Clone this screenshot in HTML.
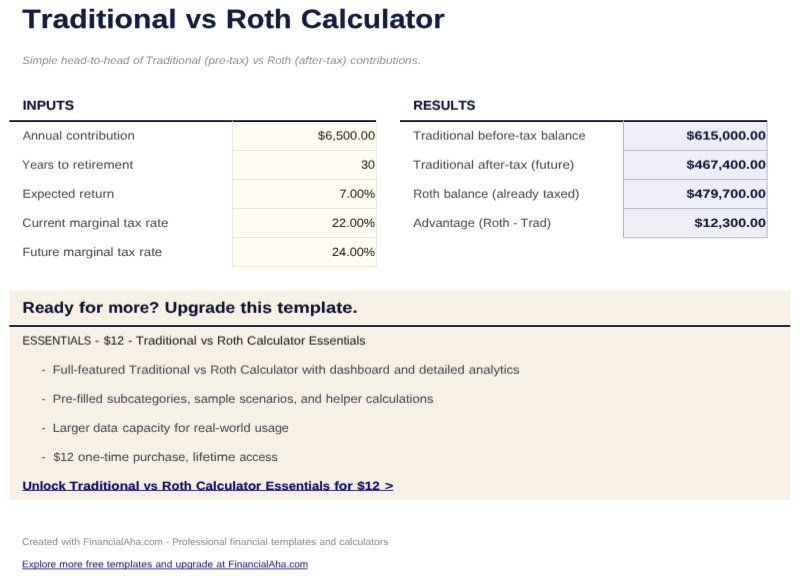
<!DOCTYPE html>
<html><head><meta charset="utf-8"><title>Traditional vs Roth Calculator</title>
<style>
html,body{margin:0;padding:0;background:#fff;}
body{width:800px;height:579px;overflow:hidden;}
svg{display:block;font-family:"Liberation Sans",sans-serif;font-kerning:none;text-rendering:geometricPrecision;}
</style></head><body>
<svg width="800" height="579" viewBox="0 0 800 579">
<defs>
<filter id="f0" x="-5%" y="-40%" width="110%" height="180%" color-interpolation-filters="sRGB"><feConvolveMatrix order="3 5" kernelMatrix="0.0000 0.0000 0.0000 0.0030 0.0485 0.0030 0.0485 0.7941 0.0485 0.0030 0.0485 0.0030 0.0000 0.0000 0.0000" divisor="1" edgeMode="none" preserveAlpha="false"/></filter>
<filter id="f4" x="-5%" y="-40%" width="110%" height="180%" color-interpolation-filters="sRGB"><feConvolveMatrix order="3 5" kernelMatrix="0.0000 0.0000 0.0000 0.0000 0.0000 0.0000 0.0327 0.5347 0.0327 0.0218 0.3564 0.0218 0.0000 0.0000 0.0000" divisor="1" edgeMode="none" preserveAlpha="false"/></filter>
<filter id="fm1" x="-5%" y="-40%" width="110%" height="180%" color-interpolation-filters="sRGB"><feConvolveMatrix order="3 5" kernelMatrix="0.0001 0.0008 0.0001 0.0058 0.0950 0.0058 0.0481 0.7877 0.0481 0.0005 0.0076 0.0005 0.0000 0.0000 0.0000" divisor="1" edgeMode="none" preserveAlpha="false"/></filter>
<filter id="fm2" x="-5%" y="-40%" width="110%" height="180%" color-interpolation-filters="sRGB"><feConvolveMatrix order="3 5" kernelMatrix="0.0000 0.0000 0.0000 0.0109 0.1782 0.0109 0.0436 0.7129 0.0436 0.0000 0.0000 0.0000 0.0000 0.0000 0.0000" divisor="1" edgeMode="none" preserveAlpha="false"/></filter>
<filter id="fm3" x="-5%" y="-40%" width="110%" height="180%" color-interpolation-filters="sRGB"><feConvolveMatrix order="3 5" kernelMatrix="0.0000 0.0000 0.0000 0.0163 0.2673 0.0163 0.0381 0.6238 0.0381 0.0000 0.0000 0.0000 0.0000 0.0000 0.0000" divisor="1" edgeMode="none" preserveAlpha="false"/></filter>
<filter id="fm4" x="-5%" y="-40%" width="110%" height="180%" color-interpolation-filters="sRGB"><feConvolveMatrix order="3 5" kernelMatrix="0.0000 0.0000 0.0000 0.0218 0.3564 0.0218 0.0327 0.5347 0.0327 0.0000 0.0000 0.0000 0.0000 0.0000 0.0000" divisor="1" edgeMode="none" preserveAlpha="false"/></filter>
</defs>
<!-- section header rules -->
<rect x="9.4" y="120.2" width="366.6" height="1.8" fill="#10163a"/>
<rect x="400" y="120.2" width="367.2" height="1.8" fill="#10163a"/>
<!-- input cells -->
<rect x="232.3" y="122" width="144.3" height="144.9" fill="#fefcf3"/>
<g fill="#e7e3d2">
<rect x="231.9" y="120.6" width="0.8" height="146.6"/>
<rect x="375.9" y="122" width="0.8" height="145.2"/>
<rect x="232.3" y="149.9" width="144.3" height="0.9"/>
<rect x="232.3" y="179.0" width="144.3" height="0.9"/>
<rect x="232.3" y="208.1" width="144.3" height="0.9"/>
<rect x="232.3" y="237.2" width="144.3" height="0.9"/>
<rect x="232.3" y="266.3" width="144.3" height="0.9"/>
</g>
<!-- result cells -->
<rect x="623.4" y="122" width="143.9" height="115.8" fill="#eeeff6"/>
<g fill="#b6b7cc">
<rect x="623.0" y="120.6" width="1" height="117.6"/>
<rect x="766.6" y="122" width="1" height="116.2"/>
<rect x="623.4" y="149.9" width="143.9" height="0.9"/>
<rect x="623.4" y="179.0" width="143.9" height="0.9"/>
<rect x="623.4" y="208.1" width="143.9" height="0.9"/>
<rect x="623.4" y="237.2" width="143.9" height="1"/>
</g>
<!-- upgrade banner -->
<rect x="9.4" y="290.5" width="780.9" height="209.3" fill="#f6f0e5"/>
<rect x="9.3" y="325.1" width="781" height="1.8" fill="#10163a"/>

<g font-size="26.36" font-weight="700" stroke="#131c3d" stroke-width="0.25" stroke-linejoin="round" fill="#131c3d" filter="url(#f0)"><text x="22.39" y="28" textLength="154.26" lengthAdjust="spacingAndGlyphs">Traditional</text> <text x="185.88" y="28" textLength="30.72" lengthAdjust="spacingAndGlyphs">vs</text> <text x="226.02" y="28" textLength="65.64" lengthAdjust="spacingAndGlyphs">Roth</text> <text x="300.87" y="28" textLength="143.95" lengthAdjust="spacingAndGlyphs">Calculator</text></g>
<g font-size="10.76" font-style="italic" fill="#8b8d97" filter="url(#f0)"><text x="22.33" y="64" textLength="35.24" lengthAdjust="spacingAndGlyphs">Simple</text> <text x="61.03" y="64" textLength="68.44" lengthAdjust="spacingAndGlyphs">head-to-head</text> <text x="133.06" y="64" textLength="10.05" lengthAdjust="spacingAndGlyphs">of</text> <text x="145.50" y="64" textLength="55.18" lengthAdjust="spacingAndGlyphs">Traditional</text> <text x="204.49" y="64" textLength="44.51" lengthAdjust="spacingAndGlyphs">(pre-tax)</text> <text x="252.72" y="64" textLength="11.31" lengthAdjust="spacingAndGlyphs">vs</text> <text x="267.19" y="64" textLength="23.80" lengthAdjust="spacingAndGlyphs">Roth</text> <text x="294.66" y="64" textLength="51.93" lengthAdjust="spacingAndGlyphs">(after-tax)</text> <text x="350.26" y="64" textLength="70.73" lengthAdjust="spacingAndGlyphs">contributions.</text></g>
<g font-size="13.15" font-weight="700" stroke="#0d1331" stroke-width="0.15" stroke-linejoin="round" fill="#0d1331" filter="url(#fm3)"><text x="22.74" y="110" textLength="51.30" lengthAdjust="spacingAndGlyphs">INPUTS</text></g>
<g font-size="13.15" font-weight="700" stroke="#0d1331" stroke-width="0.13" stroke-linejoin="round" fill="#0d1331" filter="url(#fm3)"><text x="413.37" y="110" textLength="62.13" lengthAdjust="spacingAndGlyphs">RESULTS</text></g>
<g font-size="11.97" stroke="#4b4b4f" stroke-width="0.06" stroke-linejoin="round" fill="#4b4b4f" filter="url(#fm4)"><text x="22.69" y="140" textLength="39.28" lengthAdjust="spacingAndGlyphs">Annual</text> <text x="65.94" y="140" textLength="68.86" lengthAdjust="spacingAndGlyphs">contribution</text></g>
<g font-size="11.97" stroke="#4b4b4f" stroke-width="0.06" stroke-linejoin="round" fill="#4b4b4f" filter="url(#fm3)"><text x="22.09" y="169" textLength="31.70" lengthAdjust="spacingAndGlyphs">Years</text> <text x="57.70" y="169" textLength="11.22" lengthAdjust="spacingAndGlyphs">to</text> <text x="72.80" y="169" textLength="60.47" lengthAdjust="spacingAndGlyphs">retirement</text></g>
<g font-size="11.97" stroke="#4b4b4f" stroke-width="0.06" stroke-linejoin="round" fill="#4b4b4f" filter="url(#fm2)"><text x="22.46" y="198" textLength="52.83" lengthAdjust="spacingAndGlyphs">Expected</text> <text x="79.34" y="198" textLength="35.00" lengthAdjust="spacingAndGlyphs">return</text></g>
<g font-size="11.97" stroke="#4b4b4f" stroke-width="0.06" stroke-linejoin="round" fill="#4b4b4f" filter="url(#fm1)"><text x="22.36" y="227" textLength="43.04" lengthAdjust="spacingAndGlyphs">Current</text> <text x="69.44" y="227" textLength="50.14" lengthAdjust="spacingAndGlyphs">marginal</text> <text x="123.56" y="227" textLength="17.81" lengthAdjust="spacingAndGlyphs">tax</text> <text x="145.43" y="227" textLength="22.93" lengthAdjust="spacingAndGlyphs">rate</text></g>
<g font-size="11.97" stroke="#4b4b4f" stroke-width="0.06" stroke-linejoin="round" fill="#4b4b4f" filter="url(#f0)"><text x="22.45" y="256" textLength="37.01" lengthAdjust="spacingAndGlyphs">Future</text> <text x="63.35" y="256" textLength="50.14" lengthAdjust="spacingAndGlyphs">marginal</text> <text x="117.47" y="256" textLength="17.81" lengthAdjust="spacingAndGlyphs">tax</text> <text x="139.34" y="256" textLength="22.93" lengthAdjust="spacingAndGlyphs">rate</text></g>
<g font-size="11.97" stroke="#222222" stroke-width="0.06" stroke-linejoin="round" fill="#222222" filter="url(#fm4)"><text x="318.12" y="140" textLength="56.89" lengthAdjust="spacingAndGlyphs">$6,500.00</text></g>
<g font-size="11.97" stroke="#222222" stroke-width="0.06" stroke-linejoin="round" fill="#222222" filter="url(#fm3)"><text x="361.22" y="169" textLength="13.78" lengthAdjust="spacingAndGlyphs">30</text></g>
<g font-size="11.97" stroke="#222222" stroke-width="0.06" stroke-linejoin="round" fill="#222222" filter="url(#fm2)"><text x="339.40" y="198" textLength="35.68" lengthAdjust="spacingAndGlyphs">7.00%</text></g>
<g font-size="11.97" stroke="#222222" stroke-width="0.06" stroke-linejoin="round" fill="#222222" filter="url(#fm1)"><text x="332.06" y="227" textLength="43.03" lengthAdjust="spacingAndGlyphs">22.00%</text></g>
<g font-size="11.97" stroke="#222222" stroke-width="0.06" stroke-linejoin="round" fill="#222222" filter="url(#f0)"><text x="332.06" y="256" textLength="43.03" lengthAdjust="spacingAndGlyphs">24.00%</text></g>
<g font-size="11.97" stroke="#4b4b4f" stroke-width="0.06" stroke-linejoin="round" fill="#4b4b4f" filter="url(#fm4)"><text x="412.90" y="140" textLength="61.10" lengthAdjust="spacingAndGlyphs">Traditional</text> <text x="478.08" y="140" textLength="58.77" lengthAdjust="spacingAndGlyphs">before-tax</text> <text x="540.98" y="140" textLength="44.57" lengthAdjust="spacingAndGlyphs">balance</text></g>
<g font-size="11.97" stroke="#4b4b4f" stroke-width="0.06" stroke-linejoin="round" fill="#4b4b4f" filter="url(#fm3)"><text x="412.90" y="169" textLength="61.10" lengthAdjust="spacingAndGlyphs">Traditional</text> <text x="478.00" y="169" textLength="49.08" lengthAdjust="spacingAndGlyphs">after-tax</text> <text x="531.14" y="169" textLength="43.17" lengthAdjust="spacingAndGlyphs">(future)</text></g>
<g font-size="11.97" stroke="#4b4b4f" stroke-width="0.06" stroke-linejoin="round" fill="#4b4b4f" filter="url(#fm2)"><text x="413.33" y="198" textLength="26.27" lengthAdjust="spacingAndGlyphs">Roth</text> <text x="443.66" y="198" textLength="44.57" lengthAdjust="spacingAndGlyphs">balance</text> <text x="492.13" y="198" textLength="46.72" lengthAdjust="spacingAndGlyphs">(already</text> <text x="542.95" y="198" textLength="36.57" lengthAdjust="spacingAndGlyphs">taxed)</text></g>
<g font-size="11.97" stroke="#4b4b4f" stroke-width="0.06" stroke-linejoin="round" fill="#4b4b4f" filter="url(#fm1)"><text x="413.29" y="227" textLength="61.54" lengthAdjust="spacingAndGlyphs">Advantage</text> <text x="478.75" y="227" textLength="30.62" lengthAdjust="spacingAndGlyphs">(Roth</text> <text x="513.24" y="227" textLength="4.01" lengthAdjust="spacingAndGlyphs">-</text> <text x="520.63" y="227" textLength="30.39" lengthAdjust="spacingAndGlyphs">Trad)</text></g>
<g font-size="11.97" font-weight="700" stroke="#0d1331" stroke-width="0.06" stroke-linejoin="round" fill="#0d1331" filter="url(#fm4)"><text x="686.63" y="140" textLength="79.33" lengthAdjust="spacingAndGlyphs">$615,000.00</text></g>
<g font-size="11.97" font-weight="700" stroke="#0d1331" stroke-width="0.07" stroke-linejoin="round" fill="#0d1331" filter="url(#fm3)"><text x="686.64" y="169" textLength="79.32" lengthAdjust="spacingAndGlyphs">$467,400.00</text></g>
<g font-size="11.97" font-weight="700" stroke="#0d1331" stroke-width="0.06" stroke-linejoin="round" fill="#0d1331" filter="url(#fm2)"><text x="686.63" y="198" textLength="79.33" lengthAdjust="spacingAndGlyphs">$479,700.00</text></g>
<g font-size="11.97" font-weight="700" stroke="#0d1331" stroke-width="0.05" stroke-linejoin="round" fill="#0d1331" filter="url(#fm1)"><text x="694.56" y="227" textLength="71.41" lengthAdjust="spacingAndGlyphs">$12,300.00</text></g>
<g font-size="15.50" font-weight="700" stroke="#0d1331" stroke-width="0.12" stroke-linejoin="round" fill="#0d1331" filter="url(#fm2)"><text x="22.63" y="313" textLength="51.01" lengthAdjust="spacingAndGlyphs">Ready</text> <text x="79.05" y="313" textLength="23.98" lengthAdjust="spacingAndGlyphs">for</text> <text x="108.17" y="313" textLength="51.13" lengthAdjust="spacingAndGlyphs">more?</text> <text x="164.87" y="313" textLength="70.38" lengthAdjust="spacingAndGlyphs">Upgrade</text> <text x="240.61" y="313" textLength="31.33" lengthAdjust="spacingAndGlyphs">this</text> <text x="277.15" y="313" textLength="80.37" lengthAdjust="spacingAndGlyphs">template.</text></g>
<g font-size="11.97" stroke="#222222" stroke-width="0.06" stroke-linejoin="round" fill="#222222" filter="url(#fm4)"><text x="22.58" y="345" textLength="68.73" lengthAdjust="spacingAndGlyphs">ESSENTIALS</text> <text x="95.14" y="345" textLength="4.01" lengthAdjust="spacingAndGlyphs">-</text> <text x="103.67" y="345" textLength="20.36" lengthAdjust="spacingAndGlyphs">$12</text> <text x="128.26" y="345" textLength="4.01" lengthAdjust="spacingAndGlyphs">-</text> <text x="135.65" y="345" textLength="61.10" lengthAdjust="spacingAndGlyphs">Traditional</text> <text x="200.93" y="345" textLength="12.21" lengthAdjust="spacingAndGlyphs">vs</text> <text x="217.04" y="345" textLength="26.27" lengthAdjust="spacingAndGlyphs">Roth</text> <text x="247.14" y="345" textLength="58.06" lengthAdjust="spacingAndGlyphs">Calculator</text> <text x="308.77" y="345" textLength="56.79" lengthAdjust="spacingAndGlyphs">Essentials</text></g>
<g font-size="11.97" stroke="#4b4b4f" stroke-width="0.06" stroke-linejoin="round" fill="#4b4b4f" filter="url(#fm3)"><text x="41.40" y="374" textLength="4.01" lengthAdjust="spacingAndGlyphs">-</text></g>
<g font-size="11.97" stroke="#4b4b4f" stroke-width="0.06" stroke-linejoin="round" fill="#4b4b4f" filter="url(#fm3)"><text x="52.69" y="374" textLength="72.55" lengthAdjust="spacingAndGlyphs">Full-featured</text> <text x="128.80" y="374" textLength="61.10" lengthAdjust="spacingAndGlyphs">Traditional</text> <text x="194.08" y="374" textLength="12.21" lengthAdjust="spacingAndGlyphs">vs</text> <text x="210.19" y="374" textLength="26.27" lengthAdjust="spacingAndGlyphs">Roth</text> <text x="240.29" y="374" textLength="58.06" lengthAdjust="spacingAndGlyphs">Calculator</text> <text x="302.32" y="374" textLength="23.52" lengthAdjust="spacingAndGlyphs">with</text> <text x="329.73" y="374" textLength="60.14" lengthAdjust="spacingAndGlyphs">dashboard</text> <text x="393.91" y="374" textLength="21.01" lengthAdjust="spacingAndGlyphs">and</text> <text x="418.91" y="374" textLength="45.96" lengthAdjust="spacingAndGlyphs">detailed</text> <text x="468.88" y="374" textLength="50.68" lengthAdjust="spacingAndGlyphs">analytics</text></g>
<g font-size="11.97" stroke="#4b4b4f" stroke-width="0.06" stroke-linejoin="round" fill="#4b4b4f" filter="url(#fm2)"><text x="41.40" y="403" textLength="4.01" lengthAdjust="spacingAndGlyphs">-</text></g>
<g font-size="11.97" stroke="#4b4b4f" stroke-width="0.06" stroke-linejoin="round" fill="#4b4b4f" filter="url(#fm2)"><text x="52.71" y="403" textLength="50.10" lengthAdjust="spacingAndGlyphs">Pre-filled</text> <text x="106.97" y="403" textLength="83.50" lengthAdjust="spacingAndGlyphs">subcategories,</text> <text x="194.37" y="403" textLength="41.08" lengthAdjust="spacingAndGlyphs">sample</text> <text x="239.45" y="403" textLength="57.52" lengthAdjust="spacingAndGlyphs">scenarios,</text> <text x="300.78" y="403" textLength="21.01" lengthAdjust="spacingAndGlyphs">and</text> <text x="325.83" y="403" textLength="36.37" lengthAdjust="spacingAndGlyphs">helper</text> <text x="365.75" y="403" textLength="67.62" lengthAdjust="spacingAndGlyphs">calculations</text></g>
<g font-size="11.97" stroke="#4b4b4f" stroke-width="0.06" stroke-linejoin="round" fill="#4b4b4f" filter="url(#fm1)"><text x="41.40" y="432" textLength="4.01" lengthAdjust="spacingAndGlyphs">-</text></g>
<g font-size="11.97" stroke="#4b4b4f" stroke-width="0.06" stroke-linejoin="round" fill="#4b4b4f" filter="url(#fm1)"><text x="52.70" y="432" textLength="37.05" lengthAdjust="spacingAndGlyphs">Larger</text> <text x="93.32" y="432" textLength="24.48" lengthAdjust="spacingAndGlyphs">data</text> <text x="122.59" y="432" textLength="47.68" lengthAdjust="spacingAndGlyphs">capacity</text> <text x="174.34" y="432" textLength="15.77" lengthAdjust="spacingAndGlyphs">for</text> <text x="193.74" y="432" textLength="56.92" lengthAdjust="spacingAndGlyphs">real-world</text> <text x="254.70" y="432" textLength="34.14" lengthAdjust="spacingAndGlyphs">usage</text></g>
<g font-size="11.97" stroke="#4b4b4f" stroke-width="0.06" stroke-linejoin="round" fill="#4b4b4f" filter="url(#f0)"><text x="41.40" y="461" textLength="4.01" lengthAdjust="spacingAndGlyphs">-</text></g>
<g font-size="11.97" stroke="#4b4b4f" stroke-width="0.06" stroke-linejoin="round" fill="#4b4b4f" filter="url(#f0)"><text x="53.45" y="461" textLength="20.36" lengthAdjust="spacingAndGlyphs">$12</text> <text x="78.09" y="461" textLength="50.92" lengthAdjust="spacingAndGlyphs">one-time</text> <text x="132.93" y="461" textLength="55.96" lengthAdjust="spacingAndGlyphs">purchase,</text> <text x="192.71" y="461" textLength="42.89" lengthAdjust="spacingAndGlyphs">lifetime</text> <text x="239.45" y="461" textLength="38.07" lengthAdjust="spacingAndGlyphs">access</text></g>
<g font-size="11.97" font-weight="700" stroke="#0c066e" stroke-width="0.13" stroke-linejoin="round" fill="#0c066e" filter="url(#fm1)"><text x="22.43" y="490" textLength="43.26" lengthAdjust="spacingAndGlyphs">Unlock</text> <text x="69.49" y="490" textLength="70.05" lengthAdjust="spacingAndGlyphs">Traditional</text> <text x="143.74" y="490" textLength="13.94" lengthAdjust="spacingAndGlyphs">vs</text> <text x="161.97" y="490" textLength="29.80" lengthAdjust="spacingAndGlyphs">Roth</text> <text x="195.97" y="490" textLength="65.36" lengthAdjust="spacingAndGlyphs">Calculator</text> <text x="265.43" y="490" textLength="64.64" lengthAdjust="spacingAndGlyphs">Essentials</text> <text x="334.16" y="490" textLength="18.48" lengthAdjust="spacingAndGlyphs">for</text> <text x="357.27" y="490" textLength="22.50" lengthAdjust="spacingAndGlyphs">$12</text> <text x="384.95" y="490" textLength="8.16" lengthAdjust="spacingAndGlyphs">&gt;</text><rect x="22.2" y="490.0" width="371.10" height="0.85" stroke="none"/></g>
<g font-size="9.50" stroke="#8c8c8c" stroke-width="0.06" stroke-linejoin="round" fill="#8c8c8c" filter="url(#f0)"><text x="22.13" y="545" textLength="35.78" lengthAdjust="spacingAndGlyphs">Created</text> <text x="61.42" y="545" textLength="18.66" lengthAdjust="spacingAndGlyphs">with</text> <text x="83.16" y="545" textLength="79.73" lengthAdjust="spacingAndGlyphs">FinancialAha.com</text> <text x="165.96" y="545" textLength="3.17" lengthAdjust="spacingAndGlyphs">-</text> <text x="172.16" y="545" textLength="54.42" lengthAdjust="spacingAndGlyphs">Professional</text> <text x="229.77" y="545" textLength="37.99" lengthAdjust="spacingAndGlyphs">financial</text> <text x="270.94" y="545" textLength="45.36" lengthAdjust="spacingAndGlyphs">templates</text> <text x="319.41" y="545" textLength="16.67" lengthAdjust="spacingAndGlyphs">and</text> <text x="339.26" y="545" textLength="49.14" lengthAdjust="spacingAndGlyphs">calculators</text></g>
<g font-size="9.53" stroke="#24227a" stroke-width="0.06" stroke-linejoin="round" fill="#24227a" filter="url(#f4)"><text x="22.10" y="567" textLength="34.11" lengthAdjust="spacingAndGlyphs">Explore</text> <text x="59.33" y="567" textLength="23.49" lengthAdjust="spacingAndGlyphs">more</text> <text x="85.85" y="567" textLength="17.96" lengthAdjust="spacingAndGlyphs">free</text> <text x="106.87" y="567" textLength="45.51" lengthAdjust="spacingAndGlyphs">templates</text> <text x="155.51" y="567" textLength="16.72" lengthAdjust="spacingAndGlyphs">and</text> <text x="175.46" y="567" textLength="37.74" lengthAdjust="spacingAndGlyphs">upgrade</text> <text x="216.27" y="567" textLength="8.83" lengthAdjust="spacingAndGlyphs">at</text> <text x="228.25" y="567" textLength="80.00" lengthAdjust="spacingAndGlyphs">FinancialAha.com</text><rect x="22.1" y="567.9" width="285.50" height="0.90" stroke="none"/></g>
</svg>
</body></html>
